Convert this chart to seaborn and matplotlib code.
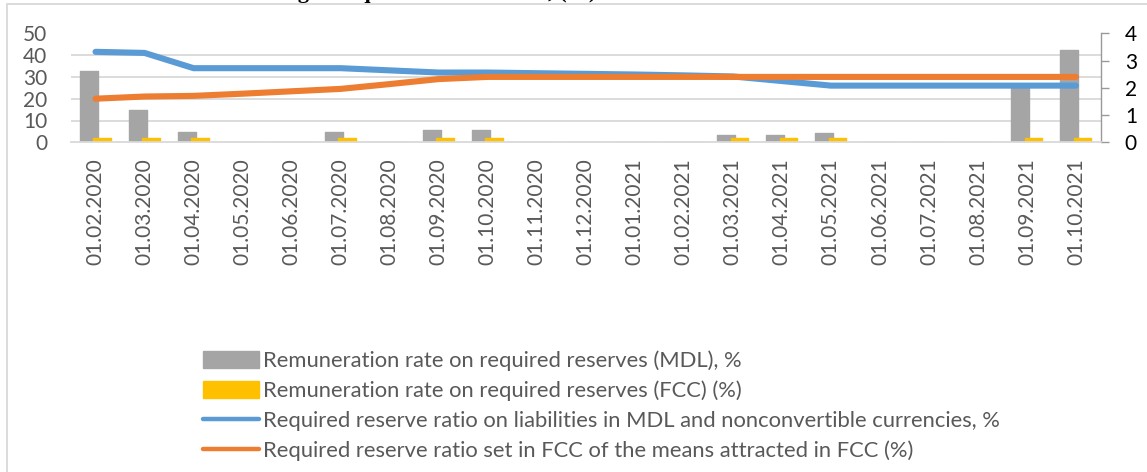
import numpy as np
import pandas as pd
import matplotlib
matplotlib.use("Agg")
import matplotlib.pyplot as plt
import seaborn as sns
from matplotlib.patches import Patch, Rectangle
from matplotlib.lines import Line2D
from matplotlib.ticker import FixedLocator

# ---- data -------------------------------------------------------------
dates = ["01.02.2020", "01.03.2020", "01.04.2020", "01.05.2020", "01.06.2020",
         "01.07.2020", "01.08.2020", "01.09.2020", "01.10.2020", "01.11.2020",
         "01.12.2020", "01.01.2021", "01.02.2021", "01.03.2021", "01.04.2021",
         "01.05.2021", "01.06.2021", "01.07.2021", "01.08.2021", "01.09.2021",
         "01.10.2021"]

# remuneration rates (right axis, %)
rem_mdl = [2.6, 1.2, 0.37, 0, 0, 0.37, 0, 0.45, 0.45, 0, 0, 0, 0,
           0.27, 0.27, 0.33, 0, 0, 0, 2.1, 3.4]
rem_fcc = [0.14, 0.14, 0.14, 0, 0, 0.14, 0, 0.14, 0.14, 0, 0, 0, 0,
           0.14, 0.14, 0.14, 0, 0, 0, 0.14, 0.14]

# required reserve ratios (left axis, %)
ratio_mdl = [41.5, 41, 34, 34, 34, 34, 33, 32, 32, 31.7, 31.4, 31.1, 30.7,
             30.2, 28.1, 26, 26, 26, 26, 26, 26]
ratio_fcc = [20, 21, 21.3, 22.3, 23.4, 24.5, 26.7, 29, 30, 30, 30, 30, 30,
             30, 30, 30, 30, 30, 30, 30, 30]

labels = ["Remuneration rate on required reserves (MDL), %",
          "Remuneration rate on required reserves (FCC) (%)",
          "Required reserve ratio on liabilities in MDL and nonconvertible currencies, %",
          "Required reserve ratio set in FCC of the means attracted in FCC (%)"]

GRAY, YELLOW, BLUE, ORANGE = "#A5A5A5", "#FFC000", "#5B9BD5", "#ED7D31"
GRID, TXT = "#D9D9D9", "#595959"

# ---- figure -----------------------------------------------------------
sns.set_theme(style="white")
plt.rcParams["font.family"] = ["Lato", "DejaVu Sans"]

W, H = 1147, 472
fig = plt.figure(figsize=(W / 100, H / 100), dpi=100)
ax = fig.add_axes([71 / W, 1 - 142.3 / H, (1100.5 - 71) / W, (142.3 - 33.3) / H])
ax2 = ax.twinx()
ax.set_zorder(ax2.get_zorder() + 1)
ax.patch.set_visible(False)

pos = np.arange(len(dates))
df = pd.DataFrame({"pos": pos, "rem_mdl": rem_mdl, "rem_fcc": rem_fcc,
                   "ratio_mdl": ratio_mdl, "ratio_fcc": ratio_fcc})

# overlapping pair of bars per month on the secondary axis
shift = 0.135
sns.barplot(x=df["pos"] - shift, y=df["rem_mdl"], native_scale=True, width=0.37,
            color=GRAY, saturation=1, errorbar=None, ax=ax2,
            edgecolor=GRAY, linewidth=1.0)
sns.barplot(x=df["pos"] + shift, y=df["rem_fcc"], native_scale=True, width=0.36,
            color=YELLOW, saturation=1, errorbar=None, ax=ax2,
            edgecolor=YELLOW, linewidth=1.0)
for p in ax2.patches:
    p.set_joinstyle("round")

# reserve ratio lines on the primary axis
sns.lineplot(data=df, x="pos", y="ratio_mdl", color=BLUE, linewidth=4.4,
             solid_capstyle="round", ax=ax)
sns.lineplot(data=df, x="pos", y="ratio_fcc", color=ORANGE, linewidth=4.4,
             solid_capstyle="round", ax=ax)

# ---- axes styling -----------------------------------------------------
ax.set_xlim(-0.5, len(dates) - 0.5)
ax.set_ylim(0, 50)
ax2.set_ylim(0, 4)
for a in (ax, ax2):
    a.set_xlabel("")
    a.set_ylabel("")

ax.set_xticks(pos)
ax.set_xticklabels(dates, rotation=90)
ax.xaxis.set_minor_locator(FixedLocator(np.arange(-0.5, len(dates), 1.0)))
ax.tick_params(axis="x", which="major", length=0, pad=11.5, labelsize=15,
               labelcolor=TXT)
ax.tick_params(axis="x", which="minor", length=4.5, width=1.3, color=GRID)
ax.set_yticks(np.arange(0, 51, 10))
ax.tick_params(axis="y", length=0, pad=17, labelsize=15, labelcolor=TXT)
ax.grid(False)
for s in ("left", "right", "top"):
    ax.spines[s].set_visible(False)
ax.spines["bottom"].set_color(GRID)
ax.spines["bottom"].set_linewidth(1.3)

ax2.set_yticks(np.arange(0, 5, 1))
ax2.set_yticks(np.linspace(0, 4, 6), minor=True)
ax2.tick_params(axis="y", which="major", length=5.5, width=1.0, color="#999999",
                pad=12, labelsize=15, labelcolor="black")
ax2.tick_params(axis="y", which="minor", length=0)
ax2.grid(False)
ax2.grid(True, which="minor", axis="y", color=GRID, linewidth=1.3)
ax2.set_axisbelow(True)
for s in ("left", "top", "bottom"):
    ax2.spines[s].set_visible(False)
ax2.spines["right"].set_color("#999999")
ax2.spines["right"].set_linewidth(1.0)

# ---- legend -----------------------------------------------------------
handles = [Patch(facecolor=GRAY, edgecolor=GRAY, joinstyle="round"),
           Patch(facecolor=YELLOW, edgecolor=YELLOW, joinstyle="round"),
           Line2D([], [], color=BLUE, linewidth=3.2, solid_capstyle="round"),
           Line2D([], [], color=ORANGE, linewidth=3.2, solid_capstyle="round")]
fig.legend(handles, labels, loc="upper left", bbox_to_anchor=(203 / W, 1 - 350.5 / H),
           frameon=False, fontsize=15.8, handlelength=2.55, handleheight=0.82,
           handletextpad=0.18, labelspacing=0.44, borderpad=0, borderaxespad=0,
           labelcolor=TXT)

# ---- chart frame and heading -----------------------------------------
fig.patches.append(Rectangle((7 / W, -0.05), 1.2, 1 - 3.8 / H + 0.05,
                             transform=fig.transFigure, fill=False,
                             edgecolor=GRID, linewidth=1.3))
fig.text(596 / W, 1 + 1.7 / H,
         "Remuneration rate and setting of required reserve rates, (%)",
         ha="right", va="baseline", fontsize=16, fontweight="bold",
         family=["Liberation Serif", "DejaVu Serif"], color="black")

fig.savefig("out.png", dpi=100)
